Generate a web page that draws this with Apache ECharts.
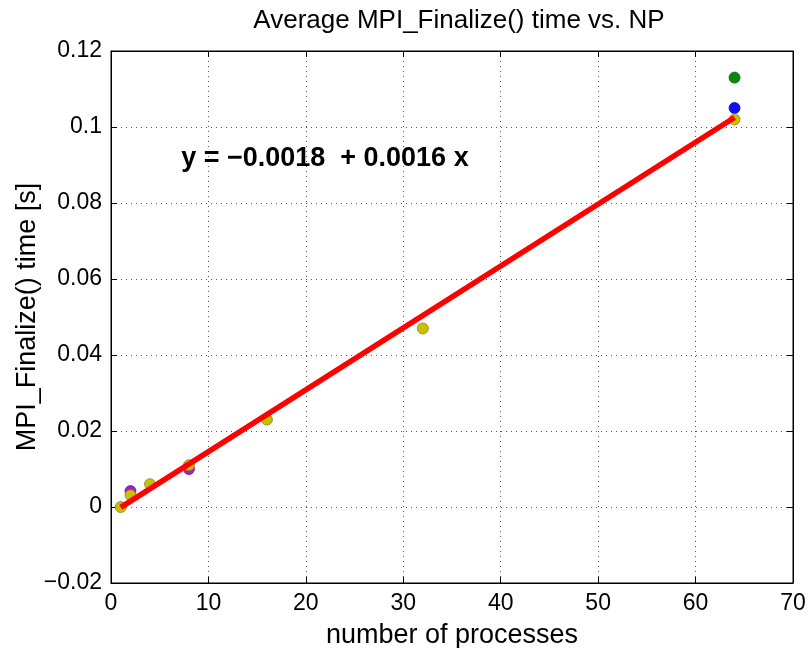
<!DOCTYPE html>
<html>
<head>
<meta charset="utf-8">
<script src="https://cdn.jsdelivr.net/npm/echarts@6/dist/echarts.min.js"></script>
<style>html,body{margin:0;padding:0;background:#fff}#c{width:810px;height:648px}</style>
</head>
<body>
<div id="c"></div>
<script>
var titleText = 'Average MPI_Finalize() time vs. NP';
var xName = 'number of processes';
var yName = 'MPI_Finalize() time [s]';
var equation = 'y = \u22120.0018  + 0.0016 x';
var xTicks = [0, 10, 20, 30, 40, 50, 60, 70];
var yTicks = [-0.02, 0, 0.02, 0.04, 0.06, 0.08, 0.1, 0.12];
var purplePts = [[2, 0.0042], [8, 0.0100]];
var greenPts = [[64, 0.1130]];
var bluePts = [[64, 0.1050]];
var yellowPts = [[1, 0.0000], [2, 0.0031], [4, 0.0060], [8, 0.0110], [16, 0.0230], [32, 0.0470], [64, 0.1020]];
var fitLine = [[1, -0.0001], [64, 0.1025]];

var chart = echarts.init(document.getElementById('c'));
var font = '"Liberation Sans", Arial, Helvetica, sans-serif';
function yfmt(v){ if (Math.abs(v) < 1e-9) return '0'; var s = (Math.round(v*100)/100).toString(); return s.replace('-', '\u2212'); }
function dotSeries(data, color, border){
  return {type:'scatter', data:data, symbolSize:11, itemStyle:{color:color, borderColor:border, borderWidth:0.8, opacity:1}, z:3, silent:true};
}
chart.setOption({
  animation:false,
  backgroundColor:'#fff',
  title:{text:titleText, left:454, top:3, textAlign:'center', textStyle:{fontFamily:font, fontSize:26, fontWeight:'normal', color:'#000'}},
  grid:{left:111, right:17, top:51, bottom:65, show:true, borderColor:'#000', borderWidth:1, containLabel:false, outerBoundsMode:'none'},
  xAxis:[{
    type:'value', min:0, max:70, interval:10,
    name:xName, nameLocation:'middle', nameGap:39,
    nameTextStyle:{fontFamily:font, fontSize:27, color:'#000'},
    axisLine:{show:true, onZero:false, lineStyle:{color:'#000'}},
    axisTick:{show:true, inside:true, length:6, lineStyle:{color:'#000'}},
    axisLabel:{fontFamily:font, fontSize:23, color:'#000', margin:9},
    splitLine:{show:true, lineStyle:{color:'#555', type:[1,4], width:1}}
  },{
    type:'value', min:0, max:70, interval:10, position:'top',
    axisLine:{show:true, onZero:false, lineStyle:{color:'#000'}},
    axisTick:{show:true, inside:true, length:6, lineStyle:{color:'#000'}},
    axisLabel:{show:false}, splitLine:{show:false}
  }],
  yAxis:[{
    type:'value', min:-0.02, max:0.12, interval:0.02,
    name:yName, nameLocation:'middle', nameGap:70, nameRotate:90, nameMoveOverlap:false,
    nameTextStyle:{fontFamily:font, fontSize:27, color:'#000'},
    axisLine:{show:true, onZero:false, lineStyle:{color:'#000'}},
    axisTick:{show:true, inside:true, length:6, lineStyle:{color:'#000'}},
    axisLabel:{fontFamily:font, fontSize:23, color:'#000', margin:9, formatter:yfmt},
    splitLine:{show:true, lineStyle:{color:'#555', type:[1,4], width:1}}
  },{
    type:'value', min:-0.02, max:0.12, interval:0.02, position:'right',
    axisLine:{show:true, onZero:false, lineStyle:{color:'#000'}},
    axisTick:{show:true, inside:true, length:6, lineStyle:{color:'#000'}},
    axisLabel:{show:false}, splitLine:{show:false}
  }],
  series:[
    dotSeries(purplePts, '#a020c0', '#7a1090'),
    dotSeries(greenPts, '#0a8a0a', '#066006'),
    dotSeries(bluePts, '#1010f0', '#0808b0'),
    dotSeries(yellowPts, '#c8c000', '#8a8420'),
    {type:'line', data:fitLine, symbol:'none', lineStyle:{color:'#ff0000', width:5.5}, z:4, silent:true}
  ]
});
var p = chart.convertToPixel({gridIndex:0}, [7.2, 0.0913]);
chart.setOption({graphic:[{type:'text', left:p[0], top:p[1]-15, z:10, style:{text:equation, fontFamily:font, fontSize:27, fontWeight:'bold', fill:'#000'}}]});
</script>
</body>
</html>
